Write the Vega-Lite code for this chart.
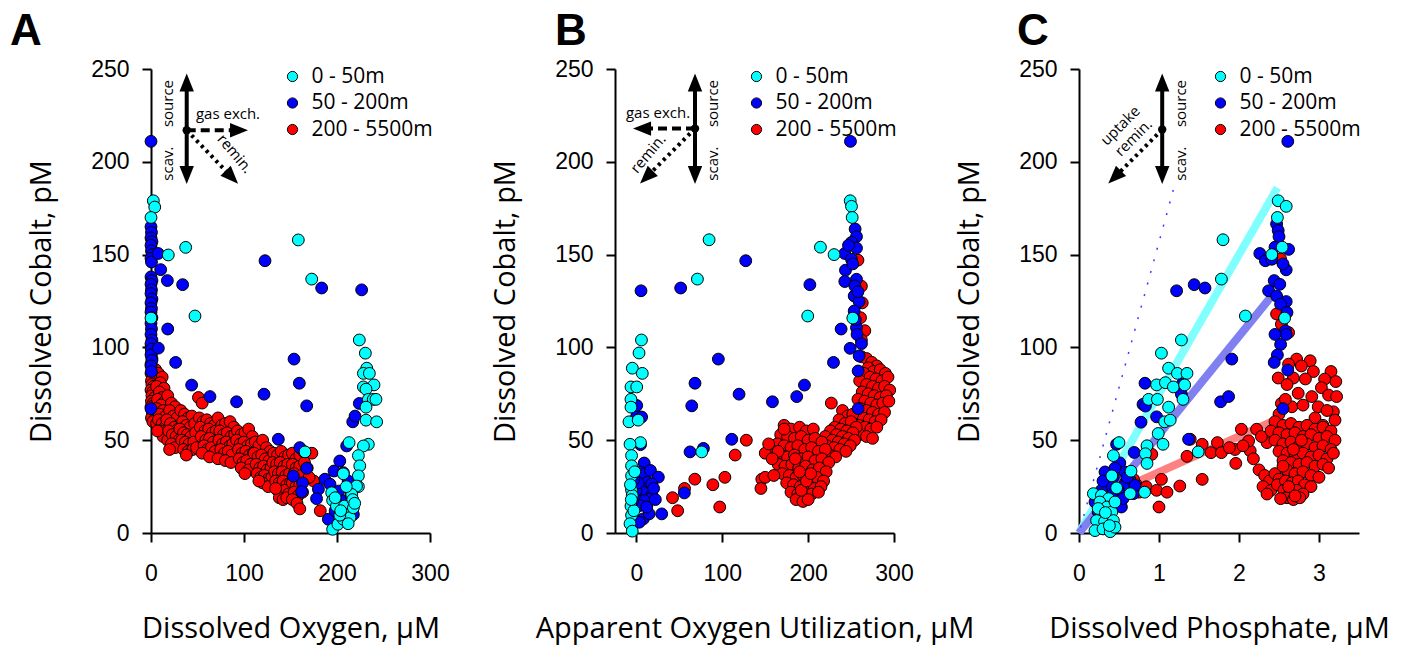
{
"$schema":"https://vega.github.io/schema/vega-lite/v6.json",
"background":"white",
"autosize":{"type":"pad"},
"padding":{"left":10,"top":10,"right":5,"bottom":12},
"config":{
 "view":{"stroke":null},
 "axis":{"domainColor":"black","domainWidth":2,"tickColor":"black","tickWidth":2,"tickSize":9,"grid":false,"labelFont":"Liberation Sans","labelFontSize":23,"labelColor":"black","labelOverlap":false,"labelFlush":false,"titleFont":"Open Sans","titleFontSize":29,"titleFontWeight":"normal","titleColor":"black"},
 "axisX":{"labelPadding":20,"titlePadding":29},
 "axisY":{"labelPadding":13,"titlePadding":34},
 "legend":{"orient":"none","legendX":131,"legendY":-3,"labelFont":"Open Sans","labelFontSize":21,"labelColor":"black","symbolSize":105,"symbolType":"circle","symbolStrokeColor":"black","symbolStrokeWidth":1,"rowPadding":4.5,"labelOffset":8.5,"padding":0},
 "text":{"font":"Open Sans","fontSize":15,"color":"black"},
 "title":{"font":"Liberation Sans","fontSize":44,"fontWeight":"bold","color":"black","anchor":"start","frame":"group"}
},
"datasets":{
 "aR":[{"x":0,"y":100},{"x":0.5,"y":97},{"x":1,"y":94},{"x":0,"y":91},{"x":1.5,"y":88},{"x":0,"y":86},{"x":2,"y":84},{"x":0.5,"y":82},{"x":1,"y":80},{"x":3,"y":79},{"x":0,"y":77},{"x":2,"y":76},{"x":1,"y":74},{"x":4,"y":73},{"x":0.5,"y":71},{"x":2.5,"y":70},{"x":0,"y":68},{"x":3,"y":67},{"x":1.5,"y":65},{"x":5,"y":64},{"x":0.5,"y":62},{"x":3.5,"y":61},{"x":2,"y":60},{"x":6,"y":59},
  {"x":5,"y":88},{"x":8,"y":86},{"x":12,"y":84},{"x":10,"y":81},{"x":6,"y":79},{"x":14,"y":78},{"x":9,"y":76},{"x":12,"y":73},{"x":7,"y":72},{"x":15,"y":71},{"x":11,"y":69},{"x":6,"y":67},{"x":13,"y":66},{"x":9,"y":64},{"x":16,"y":63},{"x":8,"y":61},{"x":12,"y":59},{"x":15,"y":57},{"x":10,"y":55},{"x":13,"y":52},{"x":18,"y":50},{"x":7,"y":55},
  {"x":18,"y":74},{"x":22,"y":70},{"x":26,"y":68},{"x":20,"y":66},{"x":24,"y":63},{"x":28,"y":62},{"x":17,"y":61},{"x":21,"y":59},{"x":25,"y":57},{"x":29,"y":56},{"x":19,"y":55},{"x":23,"y":53},{"x":27,"y":52},{"x":30,"y":50},{"x":22,"y":48},{"x":26,"y":46},{"x":20,"y":45},
  {"x":32,"y":66},{"x":36,"y":64},{"x":40,"y":62},{"x":44,"y":63},{"x":34,"y":60},{"x":38,"y":58},{"x":42,"y":57},{"x":47,"y":59},{"x":31,"y":56},{"x":35,"y":54},{"x":39,"y":53},{"x":43,"y":52},{"x":48,"y":54},{"x":33,"y":50},{"x":37,"y":49},{"x":41,"y":48},{"x":46,"y":49},{"x":35,"y":45},{"x":40,"y":44},{"x":45,"y":45},{"x":49,"y":46},{"x":38,"y":42},
  {"x":51,"y":73},{"x":55,"y":70},{"x":52,"y":62},{"x":56,"y":60},{"x":60,"y":61},{"x":64,"y":59},{"x":68,"y":58},{"x":53,"y":57},{"x":58,"y":55},{"x":62,"y":56},{"x":66,"y":54},{"x":70,"y":55},{"x":54,"y":52},{"x":59,"y":50},{"x":63,"y":51},{"x":67,"y":49},{"x":57,"y":47},{"x":61,"y":45},{"x":65,"y":46},{"x":69,"y":44},{"x":55,"y":43},{"x":63,"y":41},
  {"x":72,"y":62},{"x":76,"y":58},{"x":80,"y":59},{"x":85,"y":60},{"x":89,"y":57},{"x":74,"y":55},{"x":78,"y":53},{"x":82,"y":54},{"x":86,"y":52},{"x":90,"y":53},{"x":73,"y":50},{"x":77,"y":48},{"x":81,"y":49},{"x":85,"y":47},{"x":88,"y":48},{"x":75,"y":45},{"x":79,"y":43},{"x":83,"y":44},{"x":87,"y":42},{"x":72,"y":40},{"x":80,"y":39},{"x":86,"y":38},
  {"x":93,"y":55},{"x":97,"y":53},{"x":101,"y":54},{"x":105,"y":56},{"x":109,"y":52},{"x":92,"y":50},{"x":96,"y":48},{"x":100,"y":49},{"x":104,"y":47},{"x":108,"y":48},{"x":94,"y":45},{"x":98,"y":43},{"x":102,"y":44},{"x":106,"y":42},{"x":110,"y":43},{"x":95,"y":40},{"x":99,"y":38},{"x":103,"y":39},{"x":107,"y":37},{"x":97,"y":35},{"x":105,"y":34},{"x":101,"y":32},
  {"x":112,"y":49},{"x":116,"y":47},{"x":120,"y":50},{"x":124,"y":46},{"x":128,"y":44},{"x":111,"y":43},{"x":115,"y":41},{"x":119,"y":42},{"x":123,"y":40},{"x":127,"y":39},{"x":113,"y":37},{"x":117,"y":35},{"x":121,"y":36},{"x":125,"y":34},{"x":129,"y":35},{"x":114,"y":32},{"x":118,"y":30},{"x":122,"y":31},{"x":126,"y":29},{"x":130,"y":30},{"x":120,"y":27},{"x":126,"y":25},{"x":116,"y":28},
  {"x":132,"y":43},{"x":136,"y":42},{"x":140,"y":44},{"x":144,"y":41},{"x":148,"y":42},{"x":131,"y":38},{"x":135,"y":37},{"x":139,"y":38},{"x":143,"y":36},{"x":147,"y":37},{"x":133,"y":33},{"x":137,"y":32},{"x":141,"y":33},{"x":145,"y":31},{"x":149,"y":32},{"x":134,"y":28},{"x":138,"y":27},{"x":142,"y":28},{"x":146,"y":26},{"x":150,"y":27},{"x":136,"y":23},{"x":140,"y":22},{"x":144,"y":23},{"x":148,"y":21},{"x":138,"y":19},{"x":142,"y":18},{"x":146,"y":19},{"x":134,"y":24},
  {"x":152,"y":43},{"x":156,"y":40},{"x":160,"y":42},{"x":164,"y":44},{"x":152,"y":37},{"x":156,"y":35},{"x":160,"y":36},{"x":154,"y":32},{"x":158,"y":30},{"x":162,"y":31},{"x":152,"y":27},{"x":156,"y":25},{"x":160,"y":26},{"x":154,"y":22},{"x":158,"y":20},{"x":152,"y":18},{"x":157,"y":16},{"x":160,"y":13},{"x":165,"y":38},{"x":168,"y":35},{"x":173,"y":43},{"x":175,"y":28},{"x":182,"y":12},{"x":170,"y":30},{"x":163,"y":22}],
 "aB":[{"x":0,"y":211},{"x":0,"y":165},{"x":0.5,"y":162},{"x":0,"y":159},{"x":1,"y":157},{"x":0,"y":155},{"x":0.5,"y":152},{"x":1.5,"y":150},{"x":0,"y":148},{"x":0.5,"y":146},{"x":0,"y":138},{"x":1,"y":136},{"x":0,"y":134},{"x":0.5,"y":131},{"x":0,"y":129},{"x":1,"y":126},{"x":0,"y":124},{"x":0.5,"y":121},{"x":0,"y":119},{"x":1,"y":116},{"x":0,"y":113},{"x":0.5,"y":110},{"x":0,"y":107},{"x":1,"y":104},{"x":0,"y":102},{"x":0.5,"y":99},{"x":0,"y":96},{"x":1,"y":93},{"x":0,"y":90},{"x":0.5,"y":87},{"x":0,"y":67},
  {"x":7.7,"y":150.6},{"x":10.4,"y":141.9},{"x":17.6,"y":136},{"x":34,"y":133.8},{"x":122.6,"y":146.7},{"x":183.5,"y":132},{"x":226.5,"y":131},{"x":18,"y":109.9},{"x":7.9,"y":99.6},{"x":26.5,"y":91.9},{"x":43.7,"y":79.7},{"x":63.4,"y":73.5},{"x":92,"y":70.7},{"x":121.5,"y":74.8},{"x":153.8,"y":93.7},{"x":159.5,"y":80.7},{"x":167.4,"y":68.5},{"x":136.9,"y":50.5},{"x":160,"y":46},{"x":167.4,"y":34.9},{"x":153,"y":30.7},{"x":163,"y":27},{"x":162,"y":22.3},{"x":180,"y":23.6},{"x":178,"y":18.5},{"x":187,"y":29},{"x":192.5,"y":26.3},{"x":203,"y":38.8},{"x":196.8,"y":33.4},{"x":206.8,"y":32.5},{"x":212,"y":28},{"x":210.4,"y":46.9},{"x":216.9,"y":59.9},{"x":219.4,"y":63},{"x":224,"y":69.8},{"x":190.7,"y":7.4},{"x":201.8,"y":22.6},{"x":206.8,"y":17.3},{"x":217.6,"y":10},{"x":215,"y":20.3},{"x":198,"y":12},{"x":210,"y":14}],
 "aC":[{"x":2.5,"y":179},{"x":4,"y":175.6},{"x":0,"y":170},{"x":18.6,"y":149.8},{"x":37.3,"y":153.9},{"x":47.3,"y":116.9},{"x":0,"y":115.8},{"x":158.4,"y":157.9},{"x":172.8,"y":136.8},{"x":165.6,"y":43.7},
  {"x":224,"y":104},{"x":230.5,"y":96.9},{"x":232,"y":88.8},{"x":228.4,"y":86},{"x":234.8,"y":86},{"x":239.8,"y":79.8},{"x":228.4,"y":78.7},{"x":231.2,"y":77.5},{"x":233.7,"y":72},{"x":239,"y":72},{"x":241.9,"y":72},{"x":231.2,"y":67.8},{"x":231.2,"y":60.8},{"x":242.6,"y":59.9},{"x":233.7,"y":47.8},{"x":228.4,"y":46.9},{"x":213,"y":48.7},{"x":223,"y":41.7},{"x":224.5,"y":36.2},{"x":223,"y":30.8},{"x":223,"y":25},{"x":221,"y":25.3},
  {"x":194.3,"y":21.7},{"x":195.3,"y":17.6},{"x":199.4,"y":14.5},{"x":206.8,"y":31.9},{"x":208,"y":14.5},{"x":210,"y":10},{"x":195.3,"y":2},{"x":201,"y":4.7},{"x":206.8,"y":7.4},{"x":214,"y":8.3},{"x":217.6,"y":13.6},{"x":215.8,"y":20.8},{"x":216.9,"y":18},{"x":212,"y":5},{"x":203,"y":9.6},{"x":198,"y":19},{"x":210,"y":25},{"x":219,"y":16},{"x":204,"y":12}],
 "bR":[{"x":258,"y":147},{"x":262,"y":133},{"x":263,"y":124},{"x":261,"y":116},{"x":266,"y":109},{"x":262,"y":104},
  {"x":262,"y":95},{"x":268,"y":94},{"x":274,"y":92},{"x":280,"y":90},{"x":270,"y":89},{"x":276,"y":87},{"x":284,"y":88},{"x":290,"y":86},{"x":265,"y":86},{"x":272,"y":84},{"x":279,"y":83},{"x":286,"y":82},{"x":293,"y":84},{"x":260,"y":82},{"x":268,"y":80},{"x":275,"y":79},{"x":282,"y":78},{"x":289,"y":79},{"x":295,"y":77},{"x":263,"y":76},{"x":270,"y":75},{"x":277,"y":74},{"x":284,"y":73},{"x":291,"y":74},{"x":258,"y":72},{"x":266,"y":71},{"x":273,"y":70},{"x":280,"y":69},{"x":287,"y":70},{"x":294,"y":71},{"x":261,"y":67},{"x":268,"y":66},{"x":275,"y":65},{"x":282,"y":64},{"x":289,"y":65},{"x":256,"y":63},{"x":264,"y":62},{"x":271,"y":61},{"x":278,"y":60},{"x":285,"y":61},{"x":259,"y":58},{"x":266,"y":57},{"x":273,"y":56},{"x":280,"y":57},{"x":260,"y":53},{"x":268,"y":52},{"x":275,"y":51},
  {"x":240,"y":66},{"x":246,"y":63},{"x":252,"y":64},{"x":236,"y":61},{"x":243,"y":59},{"x":250,"y":60},{"x":256,"y":57},{"x":231,"y":57},{"x":238,"y":56},{"x":245,"y":55},{"x":252,"y":54},{"x":226,"y":55},{"x":233,"y":53},{"x":240,"y":52},{"x":247,"y":51},{"x":254,"y":50},{"x":220,"y":52},{"x":228,"y":50},{"x":235,"y":49},{"x":242,"y":48},{"x":249,"y":47},{"x":215,"y":49},{"x":222,"y":47},{"x":230,"y":46},{"x":237,"y":45},{"x":244,"y":44},{"x":212,"y":45},{"x":218,"y":43},{"x":225,"y":42},{"x":232,"y":41},{"x":205,"y":44},
  {"x":172,"y":58},{"x":180,"y":56},{"x":190,"y":57},{"x":198,"y":55},{"x":206,"y":56},{"x":168,"y":53},{"x":176,"y":52},{"x":184,"y":51},{"x":192,"y":52},{"x":200,"y":50},{"x":208,"y":51},{"x":216,"y":49},{"x":164,"y":48},{"x":172,"y":47},{"x":180,"y":46},{"x":188,"y":47},{"x":196,"y":45},{"x":204,"y":46},{"x":212,"y":44},{"x":220,"y":45},{"x":160,"y":43},{"x":168,"y":42},{"x":176,"y":41},{"x":184,"y":42},{"x":192,"y":40},{"x":200,"y":41},{"x":208,"y":39},{"x":216,"y":40},{"x":224,"y":38},{"x":165,"y":37},{"x":173,"y":36},{"x":181,"y":37},{"x":189,"y":35},{"x":197,"y":36},{"x":205,"y":34},{"x":213,"y":35},{"x":221,"y":33},{"x":170,"y":32},{"x":178,"y":31},{"x":186,"y":30},{"x":194,"y":31},{"x":202,"y":29},{"x":210,"y":30},{"x":218,"y":28},{"x":175,"y":27},{"x":183,"y":26},{"x":191,"y":25},{"x":199,"y":26},{"x":207,"y":24},{"x":215,"y":25},{"x":180,"y":22},{"x":188,"y":21},{"x":196,"y":20},{"x":204,"y":21},{"x":212,"y":22},{"x":186,"y":18},{"x":194,"y":17},{"x":200,"y":18},{"x":192,"y":23},{"x":198,"y":28},{"x":203,"y":32},{"x":190,"y":33},{"x":185,"y":40},
  {"x":146,"y":29},{"x":145,"y":24},{"x":150,"y":30},{"x":160,"y":31},{"x":150,"y":43},{"x":154,"y":48},{"x":172,"y":56},{"x":227,"y":70},{"x":115,"y":42},{"x":128,"y":50},{"x":103,"y":30},{"x":89,"y":26},{"x":97,"y":14},{"x":68,"y":29},{"x":56,"y":24},{"x":48,"y":12},{"x":42,"y":19},{"x":165,"y":44},{"x":158,"y":40}],
 "bB":[{"x":249.3,"y":211},{"x":5.3,"y":130.5},{"x":51.5,"y":132},{"x":127.3,"y":146.7},{"x":202,"y":133.8},{"x":95.4,"y":93.7},{"x":68.2,"y":80.7},{"x":64.4,"y":68.5},{"x":119.5,"y":74.8},{"x":158.4,"y":70.7},{"x":186.7,"y":73.5},{"x":195.7,"y":79.7},{"x":229.5,"y":91.9},{"x":238.4,"y":109.9},{"x":111,"y":50.5},{"x":78,"y":45.6},{"x":62.4,"y":43.7},{"x":55.8,"y":21.6},{"x":29.4,"y":10.3},
  {"x":254.7,"y":163.8},{"x":256.3,"y":159.7},{"x":250.5,"y":156.6},{"x":256.3,"y":153.5},{"x":242.7,"y":150.6},{"x":250.5,"y":147.5},{"x":243.5,"y":141.6},{"x":256.3,"y":136.7},{"x":242.7,"y":135.5},{"x":254.4,"y":133.1},{"x":253.6,"y":127.7},{"x":259.4,"y":124.7},{"x":253.6,"y":119.6},{"x":256.3,"y":110.6},{"x":257,"y":107},{"x":262.1,"y":102},{"x":248.9,"y":99.5},{"x":259.4,"y":95.4},{"x":258.2,"y":87.3},{"x":258.2,"y":67},{"x":252,"y":145},{"x":258,"y":130},{"x":255,"y":115},{"x":247,"y":155},
  {"x":0.3,"y":63},{"x":6,"y":62.5},{"x":0.3,"y":68.7},{"x":4.7,"y":47.6},{"x":9,"y":37.7},{"x":4.7,"y":32.8},{"x":9.3,"y":31.9},{"x":16.3,"y":33.7},{"x":25.5,"y":30.1},{"x":12.9,"y":27.4},{"x":17.8,"y":26.5},{"x":5.1,"y":23.8},{"x":8,"y":22},{"x":17.8,"y":20.2},{"x":15.8,"y":18.4},{"x":9,"y":17.5},{"x":4,"y":14.8},{"x":8,"y":7.6},{"x":3.2,"y":5.8},{"x":-4.5,"y":17},{"x":-2.2,"y":20.2},{"x":-0.6,"y":22.9},{"x":14.8,"y":10.3},{"x":20,"y":24},{"x":12,"y":14},{"x":2,"y":27},{"x":22,"y":18},{"x":-3,"y":29}],
 "bC":[{"x":249,"y":179},{"x":250.5,"y":176},{"x":251.3,"y":170},{"x":84.6,"y":158},{"x":214.3,"y":154},{"x":230.2,"y":150},{"x":71,"y":136.8},{"x":199.5,"y":116.9},{"x":252,"y":115.8},{"x":76,"y":43.7},
  {"x":5.8,"y":104},{"x":3,"y":97},{"x":-4.8,"y":88.8},{"x":6.8,"y":86},{"x":-6.4,"y":78.7},{"x":0.3,"y":78.7},{"x":-6.4,"y":72},{"x":-6.4,"y":67.8},{"x":-8.7,"y":59.9},{"x":2,"y":60.8},{"x":4.7,"y":48.7},{"x":-7.5,"y":47.8},{"x":-5.7,"y":41.7},{"x":-5.7,"y":36.2},{"x":-5.7,"y":30.8},{"x":-5.7,"y":23.1},{"x":-4.9,"y":20.2},{"x":-6.4,"y":14.5},{"x":-5.7,"y":9.6},{"x":-7.5,"y":5},{"x":-4.9,"y":1},{"x":-3,"y":12},{"x":-7,"y":26},{"x":-2,"y":33},{"x":-6,"y":18}],
 "cR":[{"x":0.58,"y":27},{"x":0.62,"y":25},{"x":0.66,"y":23},{"x":0.71,"y":26.5},{"x":0.68,"y":29},{"x":0.75,"y":22},{"x":0.84,"y":24.9},{"x":0.97,"y":23},{"x":1.03,"y":28.9},{"x":1.1,"y":22},{"x":1.0,"y":14},{"x":1.26,"y":25.3},{"x":1.54,"y":28.9},{"x":1.35,"y":41.3},{"x":1.39,"y":50.5},{"x":1.54,"y":47.8},{"x":1.65,"y":43.3},{"x":1.73,"y":48.7},{"x":1.78,"y":43.3},{"x":1.96,"y":37.5},{"x":1.95,"y":45},{"x":2.03,"y":55.9},{"x":2.14,"y":44.3},{"x":2.22,"y":55.9},{"x":2.12,"y":49.6},{"x":2.35,"y":48.7},{"x":1.88,"y":46},{"x":2.05,"y":47},{"x":2.28,"y":52},{"x":2.18,"y":40},{"x":0.91,"y":42.4},
  {"x":2.47,"y":118},{"x":2.53,"y":112.5},{"x":2.62,"y":108},{"x":2.52,"y":147.6},
  {"x":2.72,"y":93.7},{"x":2.89,"y":92.8},{"x":2.78,"y":90},{"x":2.62,"y":91},{"x":3.15,"y":87},{"x":3.21,"y":81.6},{"x":3.07,"y":82.9},{"x":2.93,"y":87},{"x":2.49,"y":83.5},{"x":2.68,"y":83.5},{"x":2.83,"y":83},{"x":3.03,"y":78.3},{"x":2.6,"y":80},{"x":2.74,"y":75.3},{"x":2.91,"y":73.5},{"x":3.12,"y":74.3},{"x":3.22,"y":73.5},{"x":2.53,"y":69.8},{"x":2.66,"y":68},{"x":2.8,"y":68.9},{"x":2.99,"y":68},{"x":3.18,"y":65.3},{"x":3.2,"y":60.8},{"x":2.5,"y":64},{"x":2.58,"y":72},{"x":2.95,"y":62},{"x":3.1,"y":66},{"x":3.05,"y":58},
  {"x":2.45,"y":60},{"x":2.55,"y":58},{"x":2.65,"y":59},{"x":2.75,"y":57},{"x":2.85,"y":58},{"x":2.95,"y":56},{"x":3.05,"y":57},{"x":3.15,"y":55},{"x":2.4,"y":55},{"x":2.5,"y":54},{"x":2.6,"y":53},{"x":2.7,"y":54},{"x":2.8,"y":52},{"x":2.9,"y":53},{"x":3.0,"y":51},{"x":3.1,"y":52},{"x":3.2,"y":50},{"x":2.45,"y":50},{"x":2.55,"y":48},{"x":2.65,"y":49},{"x":2.75,"y":47},{"x":2.85,"y":48},{"x":2.95,"y":46},{"x":3.05,"y":47},{"x":3.15,"y":45},{"x":2.5,"y":44},{"x":2.6,"y":43},{"x":2.7,"y":42},{"x":2.8,"y":43},{"x":2.9,"y":41},{"x":3.0,"y":42},{"x":3.1,"y":40},{"x":2.55,"y":39},{"x":2.65,"y":38},{"x":2.75,"y":37},{"x":2.85,"y":38},{"x":2.95,"y":36},{"x":3.05,"y":37},{"x":2.25,"y":34},{"x":2.32,"y":31},{"x":2.38,"y":28},{"x":2.3,"y":25},{"x":2.4,"y":23},{"x":2.45,"y":32},{"x":2.5,"y":29},{"x":2.48,"y":26},{"x":2.35,"y":21},{"x":2.6,"y":34},{"x":2.7,"y":32},{"x":2.8,"y":33},{"x":2.9,"y":31},{"x":3.0,"y":30},{"x":2.58,"y":28},{"x":2.66,"y":27},{"x":2.74,"y":28},{"x":2.82,"y":26},{"x":2.9,"y":25},{"x":2.56,"y":23},{"x":2.64,"y":22},{"x":2.72,"y":23},{"x":2.8,"y":21},{"x":2.6,"y":19},{"x":2.68,"y":18},{"x":2.76,"y":19},{"x":2.52,"y":18.5},{"x":2.62,"y":25},{"x":2.7,"y":20},{"x":2.55,"y":36},{"x":2.68,"y":45},{"x":2.78,"y":50},{"x":3.12,"y":35},{"x":3.18,"y":43}],
 "cB":[{"x":2.61,"y":211},{"x":1.22,"y":130.5},{"x":1.44,"y":133.8},{"x":1.575,"y":132},{"x":1.91,"y":93.7},{"x":1.77,"y":70.7},{"x":1.87,"y":73.5},{"x":1.37,"y":50.5},
  {"x":2.26,"y":150.6},{"x":2.33,"y":146.7},{"x":2.41,"y":147.5},{"x":2.47,"y":166.5},{"x":2.49,"y":163},{"x":2.5,"y":159.7},{"x":2.45,"y":154},{"x":2.62,"y":152.8},{"x":2.59,"y":141.8},{"x":2.44,"y":136},{"x":2.51,"y":134},{"x":2.37,"y":130.5},{"x":2.47,"y":127.7},{"x":2.59,"y":124.7},{"x":2.52,"y":123.3},{"x":2.6,"y":118.8},{"x":2.58,"y":108.9},{"x":2.59,"y":107},{"x":2.45,"y":107},{"x":2.52,"y":101.6},{"x":2.48,"y":95.9},{"x":2.44,"y":91.9},{"x":2.61,"y":87.8},{"x":2.55,"y":67},{"x":2.55,"y":145},
  {"x":0.825,"y":80.7},{"x":0.8,"y":69.3},{"x":0.83,"y":68.4},{"x":0.775,"y":59.7},{"x":0.97,"y":62.6},{"x":1.29,"y":80.2},{"x":1.28,"y":74.8},{"x":0.69,"y":43.4},{"x":0.47,"y":47.8},{"x":0.51,"y":37.8},{"x":0.325,"y":32.9},{"x":0.43,"y":30.2},{"x":0.64,"y":28.4},{"x":0.57,"y":25.7},{"x":0.37,"y":25.7},{"x":0.28,"y":23},{"x":0.49,"y":23},{"x":0.68,"y":21.2},{"x":0.2,"y":16.7},{"x":0.53,"y":14},{"x":0.37,"y":10.4},{"x":0.24,"y":11.3},{"x":0.41,"y":20.3},{"x":0.57,"y":32.9},{"x":0.7,"y":25.7},{"x":0.55,"y":18.5},{"x":0.3,"y":28},{"x":0.45,"y":35},{"x":0.6,"y":30},{"x":0.35,"y":18},{"x":0.22,"y":20}],
 "cC":[{"x":2.49,"y":179},{"x":2.59,"y":176},{"x":2.48,"y":170},{"x":1.8,"y":158},{"x":1.78,"y":136.8},{"x":2.08,"y":116.9},{"x":2.54,"y":154},{"x":2.41,"y":150},{"x":2.57,"y":115.8},{"x":1.28,"y":104},{"x":1.03,"y":96.9},{"x":1.12,"y":88.8},{"x":1.23,"y":86},{"x":1.35,"y":86},{"x":0.97,"y":79.8},{"x":1.08,"y":81},{"x":1.18,"y":78.7},{"x":1.32,"y":79.8},{"x":0.87,"y":72},{"x":0.98,"y":72},{"x":1.12,"y":67.8},{"x":1.3,"y":72},{"x":1.07,"y":59.9},{"x":1.14,"y":60.8},{"x":0.99,"y":53.6},{"x":1.05,"y":47.8},{"x":0.85,"y":47},{"x":0.83,"y":42.7},{"x":0.85,"y":37.5},{"x":0.5,"y":48.7},{"x":0.43,"y":41.7},{"x":1.49,"y":43.7},{"x":0.65,"y":33.3},{"x":0.41,"y":30.8},{"x":0.82,"y":22},{"x":0.64,"y":21.2},{"x":0.47,"y":24.3},
  {"x":0.18,"y":21.2},{"x":0.28,"y":20.3},{"x":0.37,"y":18.5},{"x":0.26,"y":16.7},{"x":0.35,"y":14},{"x":0.41,"y":11.3},{"x":0.28,"y":9.5},{"x":0.22,"y":6.7},{"x":0.32,"y":6.1},{"x":0.43,"y":6.7},{"x":0.2,"y":1.3},{"x":0.3,"y":2.2},{"x":0.39,"y":0.7},{"x":0.45,"y":3.1},{"x":0.24,"y":13.2},{"x":0.45,"y":16.7},{"x":0.33,"y":11},{"x":0.38,"y":4}]
},
"hconcat":[
 {"width":279,"height":464,
  "title":{"text":"A","dx":-141},
  "encoding":{
   "x":{"field":"x","type":"quantitative","title":"Dissolved Oxygen, μM","scale":{"domain":[0,300],"nice":false,"zero":false},"axis":{"values":[0,100,200,300]}},
   "y":{"field":"y","type":"quantitative","title":"Dissolved Cobalt, pM","scale":{"domain":[0,250],"nice":false,"zero":false},"axis":{"values":[0,50,100,150,200,250]}}},
  "layer":[
   {"data":{"name":"aR"},"mark":{"type":"circle","size":140,"opacity":1,"stroke":"black","strokeWidth":1},"encoding":{"color":{"datum":"200 - 5500m","type":"nominal","scale":{"domain":["0 - 50m","50 - 200m","200 - 5500m"],"range":["#00ffff","#0000ff","#ff0000"]},"legend":{"title":null}}}},
   {"data":{"name":"aB"},"mark":{"type":"circle","size":140,"opacity":1,"stroke":"black","strokeWidth":1},"encoding":{"color":{"datum":"50 - 200m","type":"nominal","scale":{"domain":["0 - 50m","50 - 200m","200 - 5500m"],"range":["#00ffff","#0000ff","#ff0000"]},"legend":{"title":null}}}},
   {"data":{"name":"aC"},"mark":{"type":"circle","size":140,"opacity":1,"stroke":"black","strokeWidth":1},"encoding":{"color":{"datum":"0 - 50m","type":"nominal","scale":{"domain":["0 - 50m","50 - 200m","200 - 5500m"],"range":["#00ffff","#0000ff","#ff0000"]},"legend":{"title":null}}}},
   {"data":{"values":[{"x":38.4,"y":192.9,"x2":38.4,"y2":242.7}]},"mark":{"type":"rule","strokeWidth":4,"color":"black"},"encoding":{"x2":{"field":"x2"},"y2":{"field":"y2"}}},
   {"data":{"values":[{"x":38.4,"y":217,"x2":94.6,"y2":217}]},"mark":{"type":"rule","strokeWidth":4,"color":"black","strokeDash":[9,5]},"encoding":{"x2":{"field":"x2"},"y2":{"field":"y2"}}},
   {"data":{"values":[{"x":38.4,"y":217,"x2":86.9,"y2":191.7}]},"mark":{"type":"rule","strokeWidth":4,"color":"black","strokeDash":[3,4]},"encoding":{"x2":{"field":"x2"},"y2":{"field":"y2"}}},
   {"data":{"values":[{"x":38.4,"y":242.7,"a":0},{"x":38.4,"y":192.9,"a":180},{"x":94.6,"y":217,"a":90},{"x":86.9,"y":191.7,"a":136}]},"mark":{"type":"point","filled":true,"opacity":1,"color":"black","size":324,"shape":"M0,-1L0.8,1L-0.8,1Z"},"encoding":{"angle":{"field":"a","type":"quantitative","scale":null}}},
   {"data":{"values":[{"x":38.4,"y":217}]},"mark":{"type":"circle","size":70,"opacity":1,"color":"black"}},
   {"data":{"values":[{"x":18.3,"y":231.4,"t":"source","a":-90},{"x":18.3,"y":199,"t":"scav.","a":-90},{"x":82.8,"y":226,"t":"gas exch.","a":0},{"x":90.3,"y":204.4,"t":"remin.","a":50}]},"mark":{"type":"text","align":"center","baseline":"middle"},"encoding":{"text":{"field":"t"},"angle":{"field":"a","type":"quantitative","scale":null}}}
  ]},
 {"width":279,"height":464,
  "title":{"text":"B","dx":-60},
  "encoding":{
   "x":{"field":"x","type":"quantitative","title":"Apparent Oxygen Utilization, μM","scale":{"domain":[-25,300],"nice":false,"zero":false},"axis":{"values":[0,100,200,300]}},
   "y":{"field":"y","type":"quantitative","title":"Dissolved Cobalt, pM","scale":{"domain":[0,250],"nice":false,"zero":false},"axis":{"values":[0,50,100,150,200,250]}}},
  "layer":[
   {"data":{"name":"bR"},"mark":{"type":"circle","size":140,"opacity":1,"stroke":"black","strokeWidth":1},"encoding":{"color":{"datum":"200 - 5500m","type":"nominal","scale":{"domain":["0 - 50m","50 - 200m","200 - 5500m"],"range":["#00ffff","#0000ff","#ff0000"]},"legend":{"title":null}}}},
   {"data":{"name":"bB"},"mark":{"type":"circle","size":140,"opacity":1,"stroke":"black","strokeWidth":1},"encoding":{"color":{"datum":"50 - 200m","type":"nominal","scale":{"domain":["0 - 50m","50 - 200m","200 - 5500m"],"range":["#00ffff","#0000ff","#ff0000"]},"legend":{"title":null}}}},
   {"data":{"name":"bC"},"mark":{"type":"circle","size":140,"opacity":1,"stroke":"black","strokeWidth":1},"encoding":{"color":{"datum":"0 - 50m","type":"nominal","scale":{"domain":["0 - 50m","50 - 200m","200 - 5500m"],"range":["#00ffff","#0000ff","#ff0000"]},"legend":{"title":null}}}},
   {"data":{"values":[{"x":68.2,"y":192.9,"x2":68.2,"y2":242.7}]},"mark":{"type":"rule","strokeWidth":4,"color":"black"},"encoding":{"x2":{"field":"x2"},"y2":{"field":"y2"}}},
   {"data":{"values":[{"x":68.2,"y":217.9,"x2":6.5,"y2":217.9}]},"mark":{"type":"rule","strokeWidth":4,"color":"black","strokeDash":[9,5]},"encoding":{"x2":{"field":"x2"},"y2":{"field":"y2"}}},
   {"data":{"values":[{"x":68.2,"y":217.9,"x2":11.6,"y2":191.7}]},"mark":{"type":"rule","strokeWidth":4,"color":"black","strokeDash":[3,4]},"encoding":{"x2":{"field":"x2"},"y2":{"field":"y2"}}},
   {"data":{"values":[{"x":68.2,"y":242.7,"a":0},{"x":68.2,"y":192.9,"a":180},{"x":6.5,"y":217.9,"a":270},{"x":11.6,"y":191.7,"a":225}]},"mark":{"type":"point","filled":true,"opacity":1,"color":"black","size":324,"shape":"M0,-1L0.8,1L-0.8,1Z"},"encoding":{"angle":{"field":"a","type":"quantitative","scale":null}}},
   {"data":{"values":[{"x":68.2,"y":217.9}]},"mark":{"type":"circle","size":70,"opacity":1,"color":"black"}},
   {"data":{"values":[{"x":89.2,"y":231.4,"t":"source","a":-90},{"x":89.2,"y":199,"t":"scav.","a":-90},{"x":25.1,"y":226.5,"t":"gas exch.","a":0},{"x":13.5,"y":204.4,"t":"remin.","a":-50}]},"mark":{"type":"text","align":"center","baseline":"middle"},"encoding":{"text":{"field":"t"},"angle":{"field":"a","type":"quantitative","scale":null}}}
  ]},
 {"width":280,"height":464,
  "title":{"text":"C","dx":-62},
  "encoding":{
   "x":{"field":"x","type":"quantitative","title":"Dissolved Phosphate, μM","scale":{"domain":[0,3.5],"nice":false,"zero":false},"axis":{"values":[0,1,2,3]}},
   "y":{"field":"y","type":"quantitative","title":"Dissolved Cobalt, pM","scale":{"domain":[0,250],"nice":false,"zero":false},"axis":{"values":[0,50,100,150,200,250]}}},
  "layer":[
   {"data":{"values":[{"x":0,"y":0,"x2":2.48,"y2":186,"c":"#80ffff"},{"x":0,"y":0,"x2":2.41,"y2":127.8,"c":"#8080f0"},{"x":0.7,"y":27,"x2":2.49,"y2":61.5,"c":"#ff8080"}]},"mark":{"type":"rule","strokeWidth":8},"encoding":{"x2":{"field":"x2"},"y2":{"field":"y2"},"stroke":{"field":"c","type":"nominal","scale":null}}},
   {"data":{"values":[{"x":0.02,"y":3,"x2":1.18,"y2":185}]},"mark":{"type":"rule","strokeWidth":1.5,"color":"#3a3aff","strokeDash":[2,10]},"encoding":{"x2":{"field":"x2"},"y2":{"field":"y2"}}},
   {"data":{"name":"cR"},"mark":{"type":"circle","size":140,"opacity":1,"stroke":"black","strokeWidth":1},"encoding":{"color":{"datum":"200 - 5500m","type":"nominal","scale":{"domain":["0 - 50m","50 - 200m","200 - 5500m"],"range":["#00ffff","#0000ff","#ff0000"]},"legend":{"title":null}}}},
   {"data":{"name":"cB"},"mark":{"type":"circle","size":140,"opacity":1,"stroke":"black","strokeWidth":1},"encoding":{"color":{"datum":"50 - 200m","type":"nominal","scale":{"domain":["0 - 50m","50 - 200m","200 - 5500m"],"range":["#00ffff","#0000ff","#ff0000"]},"legend":{"title":null}}}},
   {"data":{"name":"cC"},"mark":{"type":"circle","size":140,"opacity":1,"stroke":"black","strokeWidth":1},"encoding":{"color":{"datum":"0 - 50m","type":"nominal","scale":{"domain":["0 - 50m","50 - 200m","200 - 5500m"],"range":["#00ffff","#0000ff","#ff0000"]},"legend":{"title":null}}}},
   {"data":{"values":[{"x":1.04,"y":192.9,"x2":1.04,"y2":242.7}]},"mark":{"type":"rule","strokeWidth":4,"color":"black"},"encoding":{"x2":{"field":"x2"},"y2":{"field":"y2"}}},
   {"data":{"values":[{"x":1.04,"y":217.4,"x2":0.446,"y2":191.7}]},"mark":{"type":"rule","strokeWidth":4,"color":"black","strokeDash":[3,4]},"encoding":{"x2":{"field":"x2"},"y2":{"field":"y2"}}},
   {"data":{"values":[{"x":1.04,"y":242.7,"a":0},{"x":1.04,"y":192.9,"a":180},{"x":0.446,"y":191.7,"a":225}]},"mark":{"type":"point","filled":true,"opacity":1,"color":"black","size":324,"shape":"M0,-1L0.8,1L-0.8,1Z"},"encoding":{"angle":{"field":"a","type":"quantitative","scale":null}}},
   {"data":{"values":[{"x":1.04,"y":217.4}]},"mark":{"type":"circle","size":70,"opacity":1,"color":"black"}},
   {"data":{"values":[{"x":1.28,"y":231.4,"t":"source","a":-90},{"x":1.28,"y":199,"t":"scav.","a":-90},{"x":0.516,"y":219.5,"t":"uptake","a":-45},{"x":0.68,"y":213,"t":"remin.","a":-45}]},"mark":{"type":"text","align":"center","baseline":"middle"},"encoding":{"text":{"field":"t"},"angle":{"field":"a","type":"quantitative","scale":null}}}
  ]}
],
"spacing":185,
"bounds":"flush",
"resolve":{"scale":{"color":"independent"},"legend":{"color":"independent"}}
}
